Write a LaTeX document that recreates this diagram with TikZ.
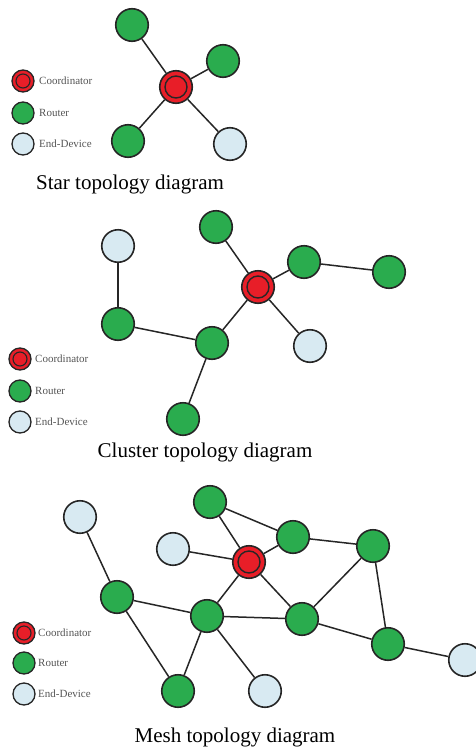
\documentclass[tikz,border=0pt]{standalone}
\usepackage{fontspec}
\setmainfont{Liberation Serif}
\usetikzlibrary{calc}
\definecolor{routergreen}{RGB}{42,172,78}
\definecolor{coordred}{RGB}{232,30,40}
\definecolor{endblue}{RGB}{216,234,242}
\definecolor{legendgray}{RGB}{85,85,85}
\tikzset{
	dev/.style={circle, draw=black!85, line width=1.6pt, minimum size=32.5pt, inner sep=0pt},
	router/.style={dev, fill=routergreen},
	enddev/.style={dev, fill=endblue},
	coord/.style={dev, fill=coordred, path picture={\draw[line width=1.4pt, black!85] (path picture bounding box.center) circle (11pt);}},
	keydev/.style={circle, draw=black!85, line width=1.3pt, minimum size=22pt, inner sep=0pt},
	keyrouter/.style={keydev, fill=routergreen},
	keyend/.style={keydev, fill=endblue},
	keycoord/.style={keydev, fill=coordred, path picture={\draw[line width=1.1pt, black!85] (path picture bounding box.center) circle (7pt);}},
	keytext/.style={anchor=west, inner sep=0pt, text=legendgray, font=\fontsize{11}{13}\selectfont},
	title/.style={font=\fontsize{21}{25}\selectfont},
	link/.style={line width=1.5pt, black!85}
}
\begin{document}
\begin{tikzpicture}[x=1pt, y=-1pt]
		\useasboundingbox (0, 0) rectangle (476, 747);
		
		%%%%% STAR %%%%%
		\node[router] (sR1) at (132, 25) {};
		\node[router] (sR2) at (223, 61) {};
		\node[coord] (sC) at (176, 87) {};
		\node[router] (sR3) at (128, 141) {};
		\node[enddev] (sE1) at (230, 144) {};
		
		\draw[link] (sC) -- (sR1);
		\draw[link] (sC) -- (sR2);
		\draw[link] (sC) -- (sR3);
		\draw[link] (sC) -- (sE1);
		
		\node[keycoord] (sKC) at (23, 81) {};
		\node[keyrouter] (sKR) at (23, 113) {};
		\node[keyend] (sKE) at (23, 144) {};
		\node[keytext] (sTC) at (39, 81) {Coordinator};
		\node[keytext] (sTR) at (39, 113) {Router};
		\node[keytext] (sTE) at (39, 144) {End-Device};
		
		\node[title] (sTitle) at (130, 184) {Star topology diagram};
		
		%%%%% CLUSTER %%%%%
		\node[enddev] (cE1) at (118, 246) {};
		\node[router] (cR1) at (216, 227) {};
		\node[router] (cR2) at (304, 262) {};
		\node[router] (cR3) at (389, 272) {};
		\node[coord] (cC) at (258, 287) {};
		\node[router] (cR4) at (118, 324) {};
		\node[router] (cR5) at (212, 343) {};
		\node[enddev] (cE2) at (310, 346) {};
		\node[router] (cR6) at (183, 419) {};
		
		\draw[link] (cE1) -- (cR4);
		\draw[link] (cR4) -- (cR5);
		\draw[link] (cR5) -- (cC);
		\draw[link] (cR5) -- (cR6);
		\draw[link] (cC) -- (cR1);
		\draw[link] (cC) -- (cR2);
		\draw[link] (cR2) -- (cR3);
		\draw[link] (cC) -- (cE2);
		
		\node[keycoord] (cKC) at (20, 359) {};
		\node[keyrouter] (cKR) at (20, 391) {};
		\node[keyend] (cKE) at (20, 422) {};
		\node[keytext] (cTC) at (35, 359) {Coordinator};
		\node[keytext] (cTR) at (35, 391) {Router};
		\node[keytext] (cTE) at (35, 422) {End-Device};
		
		\node[title] (cTitle) at (205, 452) {Cluster topology diagram};
		
		%%%%% MESH %%%%%
		\node[enddev] (mE1) at (80, 517) {};
		\node[router] (mR1) at (210, 502) {};
		\node[router] (mR2) at (293, 537) {};
		\node[router] (mR3) at (373, 546) {};
		\node[enddev] (mE2) at (173, 549) {};
		\node[coord] (mC) at (249, 562) {};
		\node[router] (mR4) at (117, 597) {};
		\node[router] (mR5) at (207, 616) {};
		\node[router] (mR6) at (302, 619) {};
		\node[router] (mR7) at (388, 644) {};
		\node[enddev] (mE3) at (465, 660) {};
		\node[router] (mR8) at (178, 691) {};
		\node[enddev] (mE4) at (265, 691) {};
		
		\draw[link] (mE1) -- (mR4);
		\draw[link] (mR4) -- (mR5);
		\draw[link] (mR4) -- (mR8);
		\draw[link] (mR5) -- (mR8);
		\draw[link] (mR5) -- (mE4);
		\draw[link] (mR5) -- (mC);
		\draw[link] (mR5) -- (mR6);
		\draw[link] (mC) -- (mE2);
		\draw[link] (mC) -- (mR1);
		\draw[link] (mC) -- (mR2);
		\draw[link] (mC) -- (mR6);
		\draw[link] (mR1) -- (mR2);
		\draw[link] (mR2) -- (mR3);
		\draw[link] (mR3) -- (mR6);
		\draw[link] (mR3) -- (mR7);
		\draw[link] (mR6) -- (mR7);
		\draw[link] (mR7) -- (mE3);
		
		\node[keycoord] (mKC) at (24, 633) {};
		\node[keyrouter] (mKR) at (24, 663) {};
		\node[keyend] (mKE) at (24, 694) {};
		\node[keytext] (mTC) at (38, 633) {Coordinator};
		\node[keytext] (mTR) at (38, 663) {Router};
		\node[keytext] (mTE) at (38, 694) {End-Device};
		
		\node[title] (mTitle) at (235, 737) {Mesh topology diagram};
		%%%%% END %%%%%
	\end{tikzpicture}
\end{document}
